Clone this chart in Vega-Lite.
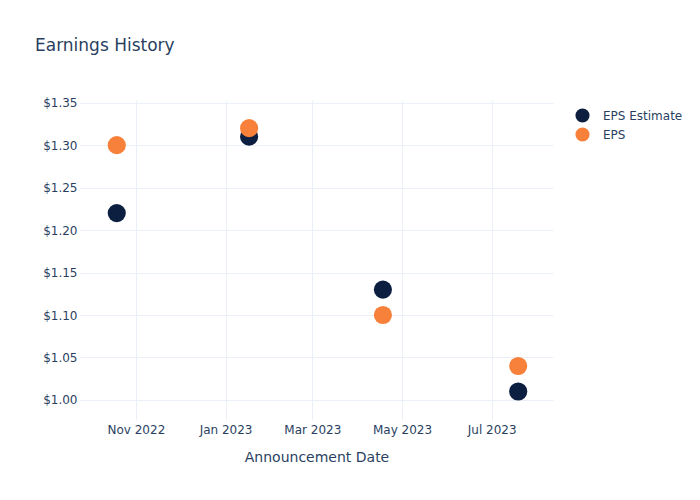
{
  "$schema": "https://vega.github.io/schema/vega-lite/v6.json",
  "width": 473,
  "height": 320,
  "autosize": {"type": "none"},
  "padding": {"left": 80, "top": 100, "right": 147, "bottom": 80},
  "background": "white",
  "config": {
    "font": "DejaVu Sans",
    "view": {"stroke": null},
    "axis": {
      "gridColor": "#ebf0f8",
      "gridWidth": 1,
      "domain": false,
      "ticks": false,
      "labelColor": "#2a3f5f",
      "labelFontSize": 12,
      "titleColor": "#2a3f5f",
      "titleFontSize": 14,
      "titleFontWeight": "normal"
    }
  },
  "title": {
    "text": "Earnings History",
    "anchor": "start",
    "frame": "group",
    "dx": -45,
    "offset": 42,
    "fontSize": 17,
    "fontWeight": "normal",
    "color": "#2a3f5f"
  },
  "data": {
    "values": [
      {"date": "2022-10-19", "series": "EPS Estimate", "value": 1.22},
      {"date": "2023-01-17", "series": "EPS Estimate", "value": 1.31},
      {"date": "2023-04-18", "series": "EPS Estimate", "value": 1.13},
      {"date": "2023-07-19", "series": "EPS Estimate", "value": 1.01},
      {"date": "2022-10-19", "series": "EPS", "value": 1.30},
      {"date": "2023-01-17", "series": "EPS", "value": 1.32},
      {"date": "2023-04-18", "series": "EPS", "value": 1.10},
      {"date": "2023-07-19", "series": "EPS", "value": 1.04}
    ]
  },
  "mark": {"type": "point", "filled": true, "shape": "circle", "size": 330, "opacity": 1},
  "encoding": {
    "x": {
      "field": "date",
      "type": "temporal",
      "title": "Announcement Date",
      "scale": {"type": "utc", "domain": ["2022-09-24T00:00:00Z", "2023-08-11T16:00:00Z"], "nice": false},
      "axis": {
        "tickCount": {"interval": "month", "step": 2},
        "format": "%b %Y",
        "labelPadding": 4,
        "titlePadding": 15,
        "labelFlush": false
      }
    },
    "y": {
      "field": "value",
      "type": "quantitative",
      "title": null,
      "scale": {"domain": [0.9764, 1.3532], "nice": false, "zero": false},
      "axis": {
        "values": [1.0, 1.05, 1.1, 1.15, 1.2, 1.25, 1.3, 1.35],
        "format": "$.2f",
        "labelPadding": 3
      }
    },
    "color": {
      "field": "series",
      "type": "nominal",
      "sort": ["EPS Estimate", "EPS"],
      "scale": {"domain": ["EPS Estimate", "EPS"], "range": ["#0c1f40", "#f7813a"]},
      "legend": {
        "title": null,
        "orient": "none",
        "legendX": 495,
        "legendY": 8,
        "padding": 0,
        "symbolType": "circle",
        "symbolSize": 200,
        "symbolStrokeWidth": 0,
        "labelFontSize": 12,
        "labelColor": "#2a3f5f",
        "labelOffset": 13,
        "rowPadding": 4
      }
    },
    "order": {"field": "series", "sort": "descending"}
  }
}
